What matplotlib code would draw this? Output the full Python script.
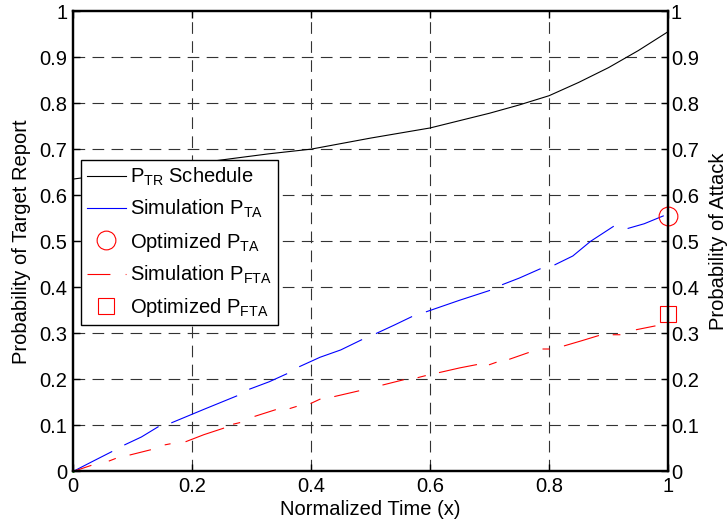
import numpy as np
import matplotlib
matplotlib.use("Agg")
import matplotlib.pyplot as plt
from matplotlib.lines import Line2D
from matplotlib.ticker import FormatStrFormatter

plt.rcParams['font.family'] = ['Liberation Sans', 'DejaVu Sans']
plt.rcParams['mathtext.fontset'] = 'custom'
plt.rcParams['mathtext.rm'] = 'Liberation Sans'
plt.rcParams['lines.scale_dashes'] = False

nan = np.nan

# P_TR schedule (black)
sched_x = [0.0, 0.1, 0.2, 0.27, 0.33, 0.4, 0.5, 0.55, 0.6, 0.65, 0.7, 0.75, 0.8, 0.85, 0.9, 0.95, 1.0]
sched_y = [0.635, 0.652, 0.668, 0.68, 0.69, 0.70, 0.724, 0.735, 0.746, 0.762, 0.778, 0.796,
           0.816, 0.845, 0.877, 0.914, 0.955]

# simulated P_TA (blue), gaps as nan
sim_ta_x = [0.0, 0.03, 0.065, nan, 0.087, 0.115, 0.143, nan, 0.166, 0.22, 0.275, nan,
            0.297, 0.33, 0.359, nan, 0.381, 0.415, 0.45, 0.485, nan, 0.51, 0.54, 0.569, nan,
            0.594, 0.65, 0.70, nan, 0.722, 0.75, 0.785, nan, 0.81, 0.84, 0.87, 0.908, nan,
            0.933, 0.96, 0.992]
sim_ta_y = [0.0, 0.02, 0.043, nan, 0.058, 0.075, 0.097, nan, 0.106, 0.135, 0.164, nan,
            0.179, 0.195, 0.212, nan, 0.228, 0.248, 0.264, 0.286, nan, 0.30, 0.318, 0.336, nan,
            0.347, 0.372, 0.393, nan, 0.406, 0.42, 0.44, nan, 0.449, 0.468, 0.50, 0.532, nan,
            0.528, 0.538, 0.555]

# simulated P_FTA (red)
sim_fta_x = [0.0, 0.03, nan, 0.061, 0.071, nan, 0.096, 0.13, nan, 0.155, 0.163, nan,
             0.19, 0.22, 0.253, nan, 0.27, 0.28, nan, 0.306, 0.34, nan, 0.365, 0.375, nan,
             0.40, 0.415, nan, 0.44, 0.48, nan, 0.521, 0.555, nan, 0.58, 0.592, nan,
             0.616, 0.65, 0.678, nan, 0.70, 0.711, nan, 0.734, 0.765, nan, 0.79, 0.80, nan,
             0.826, 0.855, 0.883, nan, 0.908, 0.919, nan, 0.947, 0.978]
sim_fta_y = [0.0, 0.013, nan, 0.023, 0.028, nan, 0.036, 0.047, nan, 0.058, 0.06, nan,
             0.065, 0.08, 0.094, nan, 0.103, 0.106, nan, 0.12, 0.134, nan, 0.137, 0.141, nan,
             0.148, 0.157, nan, 0.163, 0.175, nan, 0.188, 0.199, nan, 0.204, 0.208, nan,
             0.215, 0.225, 0.232, nan, 0.232, 0.237, nan, 0.244, 0.258, nan, 0.266, 0.266, nan,
             0.273, 0.284, 0.295, nan, 0.297, 0.297, nan, 0.308, 0.316]

# optimized values at x = 1
opt_ta = 0.555
opt_fta = 0.342

xticks = [0, 0.2, 0.4, 0.6, 0.8, 1]
yticks = [0, 0.1, 0.2, 0.3, 0.4, 0.5, 0.6, 0.7, 0.8, 0.9, 1]

fs = 14.5
fig = plt.figure(figsize=(7.28, 5.29), dpi=100)
ax = fig.add_axes([0.1003, 0.1087, 0.8173, 0.8705])

grid_ls = (0, (8.4, 5.3))
for v in xticks[1:-1]:
    ax.axvline(v, color='#333333', lw=0.8, ls=grid_ls, zorder=0)
for v in yticks[1:-1]:
    ax.axhline(v, color='#333333', lw=0.8, ls=grid_ls, zorder=0)

ax.plot(sched_x, sched_y, color='black', lw=0.8)
ax.plot(sim_ta_x, sim_ta_y, color='blue', lw=0.8)
ax.plot(sim_fta_x, sim_fta_y, color='red', lw=0.8)
ax.plot([1], [opt_ta], 'o', mfc='none', mec='red', ms=13.5, mew=0.8, clip_on=False, zorder=5)
ax.plot([1], [opt_fta], 's', mfc='none', mec='red', ms=12, mew=0.8, clip_on=False, zorder=5)
ax.plot([0], [0], '.', color='green', ms=2, clip_on=False)

ax.set_xlim(0, 1)
ax.set_ylim(0, 1)
ax.set_xticks(xticks)
ax.set_yticks(yticks)
ax.xaxis.set_major_formatter(FormatStrFormatter('%g'))
ax.yaxis.set_major_formatter(FormatStrFormatter('%g'))
ax.tick_params(direction='in', length=5, width=1, labelsize=fs, top=True, pad=4)
for s in ax.spines.values():
    s.set_linewidth(1.6)
ax.set_xlabel('Normalized Time (x)', fontsize=fs, labelpad=3)
ax.set_ylabel('Probability of Target Report', fontsize=fs, labelpad=6)

ax2 = ax.twinx()
ax2.set_ylim(0, 1)
ax2.set_yticks(yticks)
ax2.yaxis.set_major_formatter(FormatStrFormatter('%g'))
ax2.tick_params(direction='in', length=5, width=1, labelsize=fs, pad=2)
for s in ax2.spines.values():
    s.set_linewidth(1.6)
ax2.set_ylabel('Probability of Attack', fontsize=fs, labelpad=7)

handles = [
    Line2D([], [], color='black', lw=0.8),
    Line2D([], [], color='blue', lw=0.8),
    Line2D([], [], ls='none', marker='o', mfc='none', mec='red', ms=13.5, mew=0.8),
    Line2D([], [], color='red', lw=0.8, ls=(0, (16.5, 11, 0.8, 6))),
    Line2D([], [], ls='none', marker='s', mfc='none', mec='red', ms=12, mew=0.8),
]
labels = [r'$\mathregular{P_{TR}}$ Schedule',
          r'Simulation $\mathregular{P_{TA}}$',
          r'Optimized $\mathregular{P_{TA}}$',
          r'Simulation $\mathregular{P_{FTA}}$',
          r'Optimized $\mathregular{P_{FTA}}$']
leg = ax2.legend(handles, labels, loc='upper left', bbox_to_anchor=(0.013, 0.677),
                 borderaxespad=0, fontsize=fs, fancybox=False, framealpha=1,
                 edgecolor='black', handlelength=1.95, handletextpad=0.2,
                 labelspacing=0.5, borderpad=0.3)
leg.get_frame().set_linewidth(1.0)

fig.savefig('out.png', dpi=100)
